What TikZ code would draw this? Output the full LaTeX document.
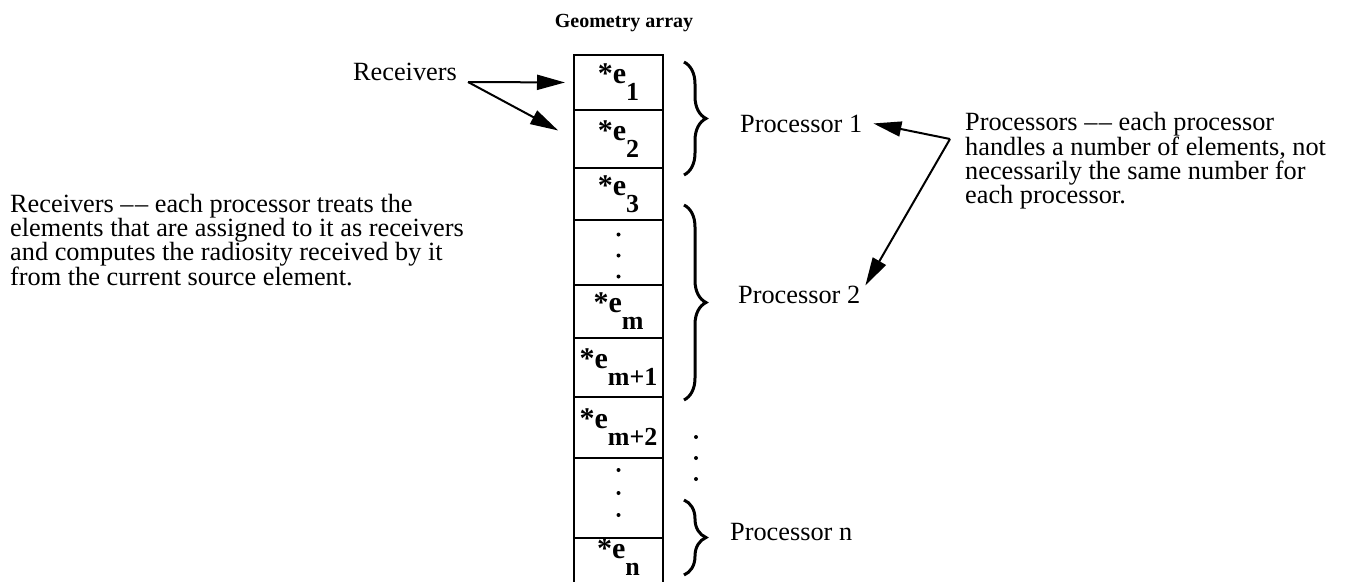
\documentclass[tikz,border=0pt]{standalone}
\usepackage{fontspec}
\setmainfont{Liberation Serif}
\usetikzlibrary{positioning,arrows.meta,calc,decorations.pathreplacing}
\newcommand{\elem}[1]{{\fontsize{30}{30}\selectfont\bfseries *e}\raisebox{-17pt}{\fontsize{26}{26}\selectfont\bfseries #1}}
\newcommand{\ddash}{\textendash\kern1.5pt\textendash}

\begin{document}
\begin{tikzpicture}[
    x=1pt, y=-1pt,
    font=\fontsize{26.3}{24}\selectfont,
    cell/.style={draw, line width=2.4pt, minimum width=89pt, inner sep=0pt, outer sep=0pt},
    arr/.style={-{Triangle[length=28pt, width=15pt]}, line width=2pt},
    brc/.style={decorate, decoration={brace, amplitude=22pt}, line width=3pt},
    lbl/.style={inner sep=0pt, align=left}
]
\path[use as bounding box, clip] (0,0) rectangle (1346,581);

% Title
\node[font=\fontsize{20}{20}\selectfont\bfseries, anchor=base] (title) at (624,27) {Geometry array};

% Geometry array cells
\node[cell, minimum height=55pt] (c1) at (618.5,82.5) {\elem{1}};
\node[cell, minimum height=58pt, below=0pt of c1] (c2) {\elem{2}};
\node[cell, minimum height=52pt, below=0pt of c2] (c3) {\elem{3}};
\node[cell, minimum height=65pt, below=0pt of c3] (d1) {};
\node[cell, minimum height=53pt, below=0pt of d1] (cm) {\elem{m}};
\node[cell, minimum height=59pt, below=0pt of cm] (cm1) {\elem{m+1}};
\node[cell, minimum height=61pt, below=0pt of cm1] (cm2) {\elem{m+2}};
\node[cell, minimum height=80pt, below=0pt of cm2] (d2) {};
\node[cell, minimum height=46pt, below=0pt of d2] (cn) {\raisebox{3pt}[0pt][0pt]{\elem{n}}};

% dots
\foreach \dy in {-18,3,24} \fill ($(d1)+(0,\dy)$) circle (2pt);
\foreach \dy in {-28,-5,17} \fill ($(d2)+(0,\dy)$) circle (2pt);
\foreach \y in {437,458,479} \fill (696,\y) circle (2pt);

% Braces
\draw[brc] (684,62) -- (684,175);
\draw[brc] (684,205) -- (684,400);
\draw[brc] (684,500) -- (684,575);

% Processor labels
\node[anchor=base west, inner sep=0pt] (p1) at (740,132) {Processor 1};
\node[anchor=base west, inner sep=0pt] (p2) at (738,303) {Processor 2};
\node[anchor=base west, inner sep=0pt] (pn) at (730,540) {Processor n};

% Receivers
\node[anchor=base east, inner sep=0pt] (rcv) at (457,80) {Receivers};
\coordinate (rjoin) at (468,82);
\draw[arr, shorten >=9pt] (rjoin) -- (c1.west);
\draw[arr, shorten >=18pt] (rjoin) -- (c2.west);

\node[lbl, anchor=north west] (rtext) at (10,194) {Receivers \ddash{} each processor treats the\\elements that are assigned to it as receivers\\and computes the radiosity received by it\\from the current source element.};

% Processors
\node[lbl, anchor=north west] (ptext) at (965,112) {Processors \ddash{} each processor\\handles a number of elements, not\\necessarily the same number for\\each processor.};
\coordinate (pjoin) at (950,139);
\draw[arr] (pjoin) -- ([xshift=11pt]p1.east);
\draw[arr] (pjoin) -- ([xshift=5pt]p2.north east);

\end{tikzpicture}
\end{document}
